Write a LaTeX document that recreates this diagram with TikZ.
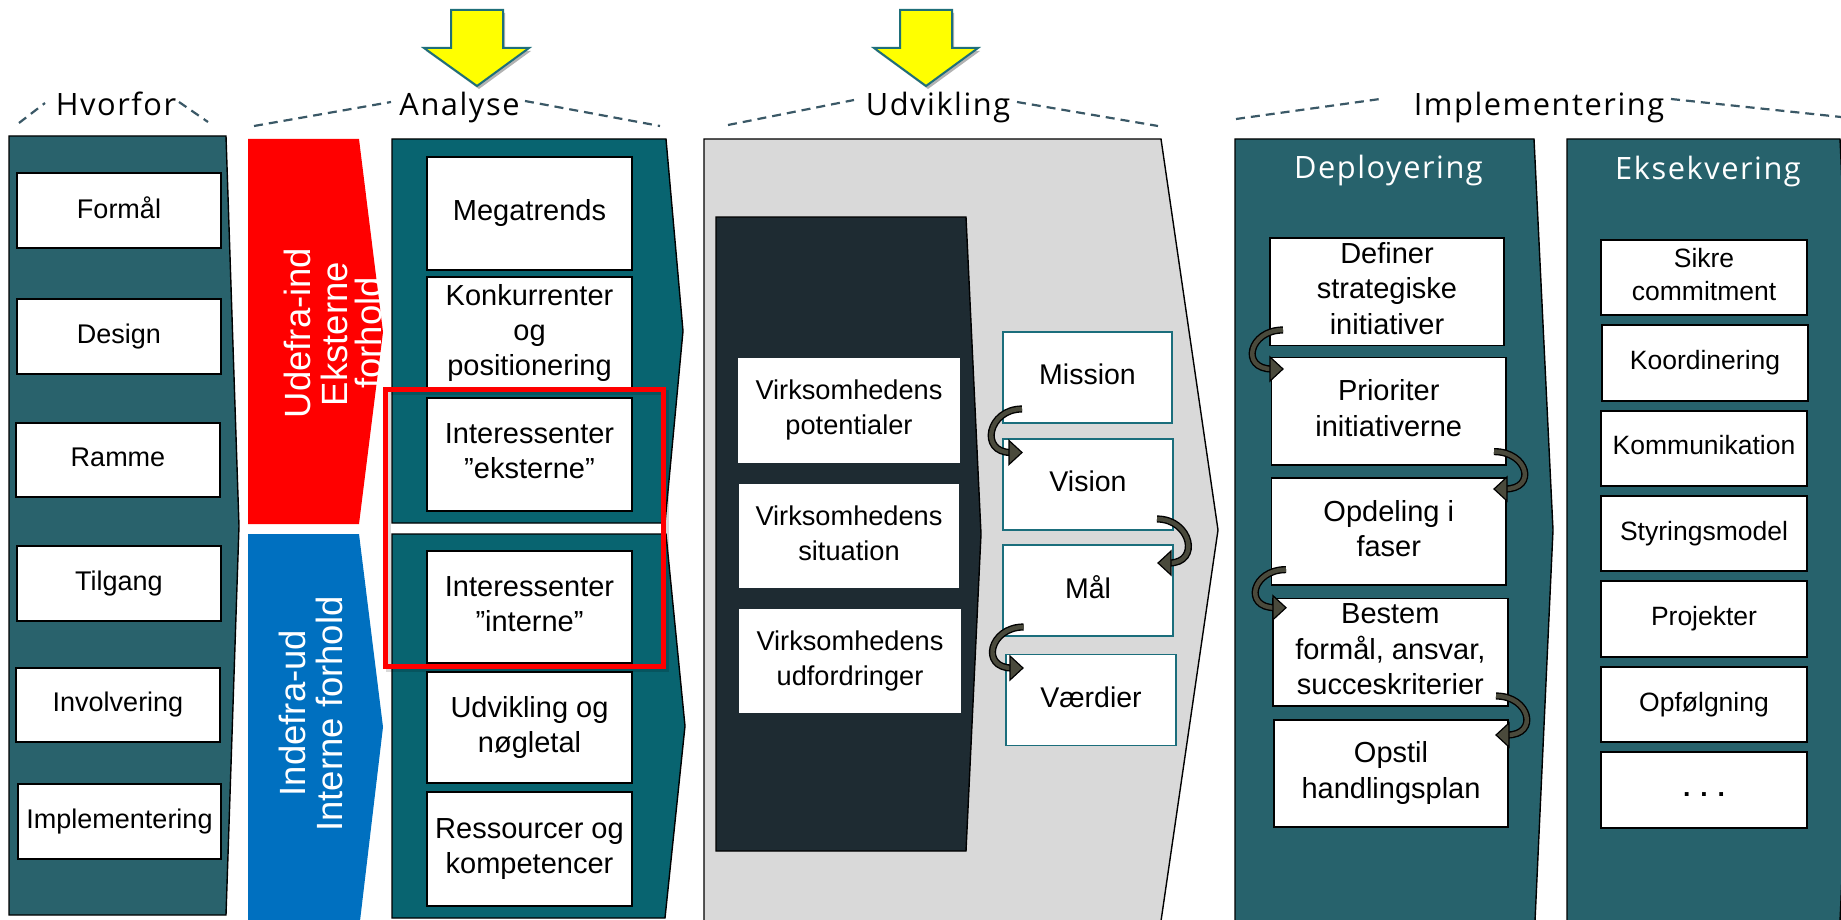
\documentclass[tikz,border=0pt]{standalone}
\usepackage{fontspec}
\setmainfont{Liberation Sans}
\newfontfamily\lblfont{Open Sans}[LetterSpace=5]
\usetikzlibrary{calc,shadows}

\definecolor{whyteal}{HTML}{29626C}
\definecolor{anateal}{HTML}{086470}
\definecolor{depteal}{HTML}{27626C}
\definecolor{udgray}{HTML}{D9D9D9}
\definecolor{udnavy}{HTML}{1E2B32}
\definecolor{redpan}{HTML}{FF0000}
\definecolor{bluepan}{HTML}{0070C0}
\definecolor{mvteal}{HTML}{1B6E7C}
\definecolor{arrowol}{HTML}{4A4A3C}
\definecolor{dashcol}{HTML}{3A5866}
\definecolor{yelarrow}{HTML}{FFFF00}
\definecolor{yeledge}{HTML}{1F6F7A}

% strut giving every text line the same height and depth
\newcommand\bstrut{\rule[-0.22em]{0pt}{0.93em}}
% rectangle node from its corner coordinates
\newcommand\tbox[7]{%
  \node[#1, minimum width={(#5-#3)*0.5pt}, minimum height={(#6-#4)*0.5pt}]
    (#2) at ({(#3+#5)/2},{(#4+#6)/2}) {#7};}
% curved step arrows, looping out on the left or the right side
\newcommand\loopL[4]{%
  \draw[loopband] ($(#1)+(#2)$) .. controls +(-34,0) and +(-32,0) .. ($(#3)+(#4)+(-11,0)$);
  \filldraw[loophead] ($(#3)+(#4)$) -- ++(-13,-12) -- ++(0,24) -- cycle;}
\newcommand\loopR[4]{%
  \draw[loopband] ($(#1)+(#2)$) .. controls +(34,0) and +(32,0) .. ($(#3)+(#4)+(11,0)$);
  \filldraw[loophead] ($(#3)+(#4)$) -- ++(13,-12) -- ++(0,24) -- cycle;}

\begin{document}
\begin{tikzpicture}[x=0.5pt,y=-0.5pt,
  every node/.style={inner sep=0pt,outer sep=0pt},
  panel/.style={draw=black,line width=0.7pt,line join=miter},
  basebox/.style={fill=white,align=center,
    execute at begin node=\bstrut,execute at end node=\bstrut},
  whybox/.style={basebox,draw=black,line width=0.8pt,font=\fontsize{13.5}{16}\selectfont},
  anabox/.style={basebox,draw=black,line width=0.9pt,font=\fontsize{14.5}{17.5}\selectfont},
  virkbox/.style={basebox,font=\fontsize{13.6}{17.2}\selectfont},
  mvbox/.style={basebox,draw=mvteal,line width=0.9pt,font=\fontsize{14.25}{17}\selectfont},
  depbox/.style={basebox,draw=black,line width=0.9pt,font=\fontsize{14.5}{17.6}\selectfont},
  eksbox/.style={basebox,draw=black,line width=0.9pt,font=\fontsize{13.25}{16.3}\selectfont},
  sidetxt/.style={rotate=90,anchor=base,text=white,font=\fontsize{18.25}{18}\selectfont},
  lbl/.style={anchor=base,font=\lblfont\fontsize{15.4}{18}\selectfont},
  bracket/.style={draw=dashcol,line width=1.1pt,dash pattern=on 4.5pt off 3pt},
  yarrow/.style={fill=yelarrow,draw=yeledge,line width=1pt,line join=miter,
    drop shadow={shadow xshift=1pt,shadow yshift=-1.5pt,fill=black,opacity=0.3}},
  loopband/.style={draw=arrowol,line width=2.2pt,preaction={draw=black,line width=3.6pt}},
  loophead/.style={fill=arrowol,draw=black,line width=0.6pt,line join=miter},
]
\useasboundingbox (0,0) rectangle (1841,920);

% ---------- column panels ----------
\filldraw[panel,fill=whyteal] (9,136) -- (226,136) -- (239,526) -- (226,915) -- (9,915) -- cycle;
\fill[redpan] (248,139) -- (359,139) -- (383,332) -- (359,524) -- (248,524) -- cycle;
\fill[bluepan] (248,534) -- (359,534) -- (383,727) -- (360,921) -- (248,921) -- cycle;
\filldraw[panel,fill=anateal] (392,139) -- (666,139) -- (683,331) -- (665,523) -- (392,523) -- cycle;
\filldraw[panel,fill=anateal] (392,534) -- (666,534) -- (685,726) -- (665,918) -- (392,918) -- cycle;
\filldraw[panel,fill=udgray] (704,139) -- (1161,139) -- (1218,530) -- (1161,921) -- (704,921) -- cycle;
\filldraw[panel,fill=udnavy] (716,217) -- (966,217) -- (981,534) -- (966,851) -- (716,851) -- cycle;
\filldraw[panel,fill=depteal] (1235,139) -- (1534,139) -- (1553,530) -- (1535,921) -- (1235,921) -- cycle;
\filldraw[panel,fill=depteal] (1567,139) -- (1840,139) -- (1858,530) -- (1840,921) -- (1567,921) -- cycle;

% ---------- rotated side texts ----------
\node[sidetxt] (ud1) at (310,333) {Udefra-ind};
\node[sidetxt] (ud2) at (347,334) {Eksterne};
\node[sidetxt] (ud3) at (381,333) {forhold};
\node[sidetxt] (in1) at (305,713) {Indefra-ud};
\node[sidetxt] (in2) at (342,714) {Interne forhold};

% ---------- Hvorfor ----------
\tbox{whybox}{formal}{17}{173}{221}{248}{Formål}
\tbox{whybox}{design}{17}{299}{221}{374}{Design}
\tbox{whybox}{ramme}{16}{423}{220}{497}{Ramme}
\tbox{whybox}{tilgang}{17}{546}{221}{621}{Tilgang}
\tbox{whybox}{involv}{16}{668}{220}{742}{Involvering}
\tbox{whybox}{implem}{18}{784}{221}{859}{Implementering}

% ---------- Analyse ----------
\tbox{anabox}{mega}{427}{157}{632}{270}{Megatrends}
\tbox{anabox}{konk}{427}{277}{632}{390}{Konkurrenter\\og\\positionering}
\tbox{anabox}{intext}{427}{398}{632}{511}{Interessenter\\”eksterne”}
\tbox{anabox}{intint}{427}{551}{632}{663}{Interessenter\\”interne”}
\tbox{anabox}{udvn}{427}{672}{632}{783}{Udvikling og\\nøgletal}
\tbox{anabox}{ress}{427}{792}{632}{906}{Ressourcer og\\kompetencer}

% ---------- Udvikling ----------
\tbox{virkbox}{vpot}{738}{357.5}{960}{463}{Virksomhedens\\potentialer}
\tbox{virkbox}{vsit}{739}{484}{959}{588}{Virksomhedens\\situation}
\tbox{virkbox}{vudf}{739}{609}{961}{713}{Virksomhedens\\udfordringer}

\tbox{mvbox}{mission}{1003}{332}{1172}{423}{Mission}
\tbox{mvbox}{vision}{1003}{439}{1173}{530}{Vision}
\tbox{mvbox}{maal}{1003}{545}{1173}{636}{Mål}
\tbox{mvbox}{vaerdi}{1006}{654.5}{1176}{745.5}{Værdier}

% ---------- Deployering ----------
\tbox{depbox}{defin}{1270}{237.6}{1504}{345.5}{Definer\\strategiske\\initiativer}
\tbox{depbox}{prior}{1271.5}{357.5}{1506}{465}{Prioriter\\initiativerne}
\tbox{depbox}{opdel}{1271.5}{478}{1506}{585}{Opdeling i\\faser}
\tbox{depbox}{bestem}{1272.7}{598.5}{1508}{706}{Bestem\\formål, ansvar,\\succeskriterier}
\tbox{depbox}{opstil}{1274}{719.7}{1508}{826.7}{Opstil\\handlingsplan}

% ---------- Eksekvering ----------
\tbox{eksbox}{sikre}{1601}{240}{1807}{315}{Sikre\\commitment}
\tbox{eksbox}{koord}{1602}{325}{1808}{400.6}{Koordinering}
\tbox{eksbox}{kommu}{1601}{411}{1807}{485.6}{Kommunikation}
\tbox{eksbox}{styr}{1601}{496}{1807}{571}{Styringsmodel}
\tbox{eksbox}{proj}{1601}{581}{1807}{657}{Projekter}
\tbox{eksbox}{opfol}{1601}{667}{1807}{742}{Opfølgning}
\tbox{eksbox}{etc}{1601}{752}{1807}{828}{\textbf{. . .}}

% ---------- stakeholder highlight ----------
\draw[black,opacity=0.15,line width=2.5pt] (388,392) rectangle (666,669);
\node[draw=redpan,line width=2.5pt,minimum width={278*0.5pt},minimum height={277*0.5pt}]
  (focus) at (524.5,528) {};

% ---------- step arrows ----------
\loopL{mission.south west}{19,-14}{vision.north west}{19,13.5}
\loopR{vision.south east}{-16,-11}{maal.north east}{-15,18}
\loopL{maal.south west}{20.6,-9}{vaerdi.north west}{17,13.5}
\loopL{defin.south west}{13,-15.5}{prior.north west}{11.5,11.5}
\loopR{prior.south east}{-12,-13.4}{opdel.north east}{-12,11}
\loopL{opdel.south west}{14.5,-15.4}{bestem.north west}{13.3,9.2}
\loopR{bestem.south east}{-12,-10}{opstil.north east}{-12,15.3}

% ---------- phase labels ----------
\node[lbl] (lhv) at (116,116) {Hvorfor};
\node[lbl] (lan) at (459.5,116) {Analyse};
\node[lbl] (lud) at (938,116) {Udvikling};
\node[lbl] (lim) at (1539,116) {Implementering};
\node[lbl,text=white] (ldep) at (1388.5,178) {Deployering};
\node[lbl,text=white] (leks) at (1708,179) {Eksekvering};

\draw[bracket] (19,123) -- (45,103);
\draw[bracket] (179,102) -- (208,122);
\draw[bracket] (254,126) -- (391,102);
\draw[bracket] (525,101) -- (660,126);
\draw[bracket] (728,125) -- (854,100);
\draw[bracket] (1017,102) -- (1158,126);
\draw[bracket] (1236,119) -- (1380,99);
\draw[bracket] (1671,99) -- (1841,117);

% ---------- focus arrows ----------
\filldraw[yarrow] (451,10) -- (503,10) -- (503,48) -- (529,48) -- (477,86) -- (424,48) -- (451,48) -- cycle;
\filldraw[yarrow] (900,10) -- (952,10) -- (952,48) -- (978,48) -- (926,86) -- (874,48) -- (900,48) -- cycle;
\end{tikzpicture}
\end{document}
